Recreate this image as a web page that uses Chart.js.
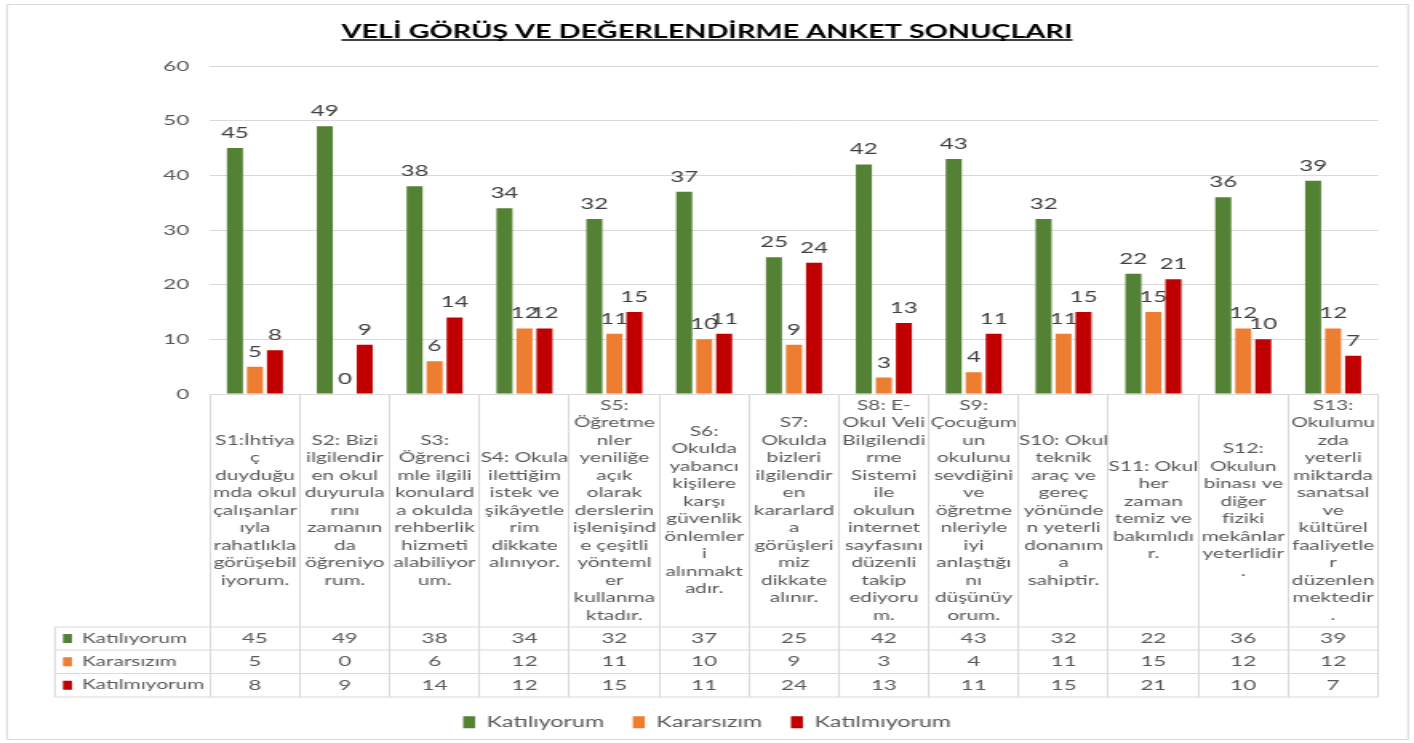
<!DOCTYPE html>
<html lang="tr">
<head>
	<meta charset="UTF-8">
	<title>Veli Görüş ve Değerlendirme Anket Sonuçları</title>
	<script src="https://cdn.jsdelivr.net/npm/chart.js"></script>
	<style>
		html, body { margin: 0; padding: 0; background: #fff; overflow: hidden; }
	</style>
</head>
<body>
	<!-- canvas is drawn narrow and stretched wide, like the Excel export -->
	<canvas id="anketChart" width="884" height="743" style="width:1414px;height:743px"></canvas>
	<script>
	// question texts, broken into lines the way Excel wrapped them in the table
	const questions = [
		['S1:İhtiya', 'ç', 'duyduğu', 'mda okul', 'çalışanlar', 'ıyla', 'rahatlıkla', 'görüşebil', 'iyorum.'],
		['S2: Bizi', 'ilgilendir', 'en okul', 'duyurula', 'rını', 'zamanın', 'da', 'öğreniyo', 'rum.'],
		['S3:', 'Öğrenci', 'mle ilgili', 'konulard', 'a okulda', 'rehberlik', 'hizmeti', 'alabiliyor', 'um.'],
		['S4: Okula', 'ilettiğim', 'istek ve', 'şikâyetle', 'rim', 'dikkate', 'alınıyor.'],
		['S5:', 'Öğretme', 'nler', 'yeniliğe', 'açık', 'olarak', 'derslerin', 'işlenişind', 'e çeşitli', 'yönteml', 'er', 'kullanma', 'ktadır.'],
		['S6:', 'Okulda', 'yabancı', 'kişilere', 'karşı', 'güvenlik', 'önlemler', 'i', 'alınmakt', 'adır.'],
		['S7:', 'Okulda', 'bizleri', 'ilgilendir', 'en', 'kararlard', 'a', 'görüşleri', 'miz', 'dikkate', 'alınır.'],
		['S8: E-', 'Okul Veli', 'Bilgilendi', 'rme', 'Sistemi', 'ile', 'okulun', 'internet', 'sayfasını', 'düzenli', 'takip', 'ediyoru', 'm.'],
		['S9:', 'Çocuğum', 'un', 'okulunu', 'sevdiğini', 've', 'öğretme', 'nleriyle', 'iyi', 'anlaştığı', 'nı', 'düşünüy', 'orum.'],
		['S10: Okul', 'teknik', 'araç ve', 'gereç', 'yönünde', 'n yeterli', 'donanım', 'a', 'sahiptir.'],
		['S11: Okul', 'her', 'zaman', 'temiz ve', 'bakımlıdı', 'r.'],
		['S12:', 'Okulun', 'binası ve', 'diğer', 'fiziki', 'mekânlar', 'yeterlidir', '.'],
		['S13:', 'Okulumu', 'zda', 'yeterli', 'miktarda', 'sanatsal', 've', 'kültürel', 'faaliyetle', 'r', 'düzenlen', 'mektedir', '.']
	];
	const katiliyorum = [45, 49, 38, 34, 32, 37, 25, 42, 43, 32, 22, 36, 39];
	const kararsizim = [5, 0, 6, 12, 11, 10, 9, 3, 4, 11, 15, 12, 12];
	const katilmiyorum = [8, 9, 14, 12, 15, 11, 24, 13, 11, 15, 21, 10, 7];
	const seriesNames = ['Katılıyorum', 'Kararsızım', 'Katılmıyorum'];
	const yMax = 60;
	const yStep = 10;
	const chartTitle = 'VELİ GÖRÜŞ VE DEĞERLENDİRME ANKET SONUÇLARI';

	// page x -> canvas x (canvas is stretched horizontally by CSS)
	const SX = 1414 / 884;
	const px = (v) => v / SX;
	const sidePad = 884 - px(1378); // same on both sides so title + legend stay centred
	const rowLines = [627, 650, 673.5, 697]; // table rows under the question cells
	const gridGrey = '#d9d9d9';
	const textGrey = '#595959';

	const frameAndTitleLine = {
		id: 'frameAndTitleLine',
		beforeDraw(chart) {
			const ctx = chart.ctx;
			ctx.save();
			ctx.fillStyle = '#fff';
			ctx.fillRect(0, 0, chart.width, chart.height);
			ctx.strokeStyle = gridGrey;
			ctx.lineWidth = 1;
			ctx.strokeRect(px(7), 4.5, px(1408) - px(7), 735);
			ctx.restore();
		},
		afterDraw(chart) {
			// underline the title
			const ctx = chart.ctx;
			const tb = chart.titleBlock;
			ctx.save();
			ctx.font = 'bold 18px Lato';
			const w = ctx.measureText(chartTitle).width;
			const cx = (tb.left + tb.right) / 2;
			ctx.strokeStyle = '#000';
			ctx.lineWidth = 1.5;
			ctx.beginPath();
			ctx.moveTo(cx - w / 2, 40);
			ctx.lineTo(cx + w / 2, 40);
			ctx.stroke();
			ctx.restore();
		}
	};

	const valueLabels = {
		id: 'valueLabels',
		afterDatasetsDraw(chart) {
			const ctx = chart.ctx;
			ctx.save();
			ctx.font = '15px Lato';
			ctx.fillStyle = '#404040';
			ctx.textAlign = 'center';
			ctx.textBaseline = 'alphabetic';
			chart.data.datasets.forEach((ds, d) => {
				chart.getDatasetMeta(d).data.forEach((bar, i) => {
					ctx.fillText(ds.data[i], bar.x, bar.y - 10);
				});
			});
			ctx.restore();
		}
	};

	// Excel style data table below the plot
	const dataTable = {
		id: 'dataTable',
		afterDraw(chart) {
			const {ctx, chartArea} = chart;
			const x = chart.scales.x;
			ctx.save();
			ctx.strokeStyle = gridGrey;
			ctx.lineWidth = 1;
			const left = px(55);
			rowLines.forEach(y => {
				ctx.beginPath();
				ctx.moveTo(left, y);
				ctx.lineTo(chartArea.right, y);
				ctx.stroke();
			});
			ctx.beginPath();
			ctx.moveTo(left, rowLines[0]);
			ctx.lineTo(left, rowLines[3]);
			ctx.stroke();

			// question cells
			ctx.fillStyle = textGrey;
			ctx.font = '13px Lato';
			ctx.textAlign = 'center';
			ctx.textBaseline = 'middle';
			const lh = 17.5;
			const mid = (chartArea.bottom + rowLines[0]) / 2;
			questions.forEach((lines, i) => {
				const cx = x.getPixelForValue(i);
				let y = mid - (lines.length - 1) * lh / 2;
				lines.forEach(t => {
					ctx.fillText(t, cx, y);
					y += lh;
				});
			});

			// one row per series
			chart.data.datasets.forEach((ds, r) => {
				const y = (rowLines[r] + rowLines[r + 1]) / 2;
				ctx.fillStyle = ds.backgroundColor;
				ctx.fillRect(px(63), y - 4.5, px(72) - px(63), 9);
				ctx.fillStyle = textGrey;
				ctx.font = '13px Lato';
				ctx.textAlign = 'left';
				ctx.fillText(ds.label, px(82), y);
				ctx.font = '14px Lato';
				ctx.textAlign = 'center';
				ds.data.forEach((v, i) => ctx.fillText(v, x.getPixelForValue(i), y));
			});
			ctx.restore();
		}
	};

	const ctx = document.getElementById('anketChart').getContext('2d');
	new Chart(ctx, {
		type: 'bar',
		data: {
			labels: questions,
			datasets: [{
				label: seriesNames[0],
				data: katiliyorum,
				backgroundColor: '#548235'
			}, {
				label: seriesNames[1],
				data: kararsizim,
				backgroundColor: '#ED7D31'
			}, {
				label: seriesNames[2],
				data: katilmiyorum,
				backgroundColor: '#C00000'
			}]
		},
		options: {
			responsive: false,
			devicePixelRatio: 1,
			animation: false,
			categoryPercentage: 0.668,
			barPercentage: 0.8,
			layout: {
				padding: { left: sidePad, right: sidePad, top: 0, bottom: 3.5 }
			},
			plugins: {
				title: {
					display: true,
					text: chartTitle,
					color: '#000',
					font: { family: 'Lato', size: 18, weight: 'bold' },
					padding: { top: 21, bottom: 23.4 }
				},
				legend: {
					position: 'bottom',
					labels: {
						boxWidth: px(12),
						boxHeight: 12,
						padding: 18,
						color: textGrey,
						font: { family: 'Lato', size: 14.5 }
					}
				},
				tooltip: { enabled: false }
			},
			scales: {
				x: {
					offset: true,
					ticks: { display: false },
					grid: {
						offset: true,
						drawOnChartArea: false,
						drawTicks: true,
						tickLength: 303,
						color: gridGrey
					},
					border: { display: true, color: gridGrey },
					afterFit: (scale) => { scale.height = 303; }
				},
				y: {
					min: 0,
					max: yMax,
					ticks: {
						stepSize: yStep,
						padding: 13,
						color: textGrey,
						font: { family: 'Lato', size: 14 }
					},
					grid: { color: gridGrey, drawTicks: false },
					border: { display: false },
					afterFit: (scale) => { scale.width = px(210) - sidePad; }
				}
			}
		},
		plugins: [frameAndTitleLine, valueLabels, dataTable]
	});
	</script>
</body>
</html>
